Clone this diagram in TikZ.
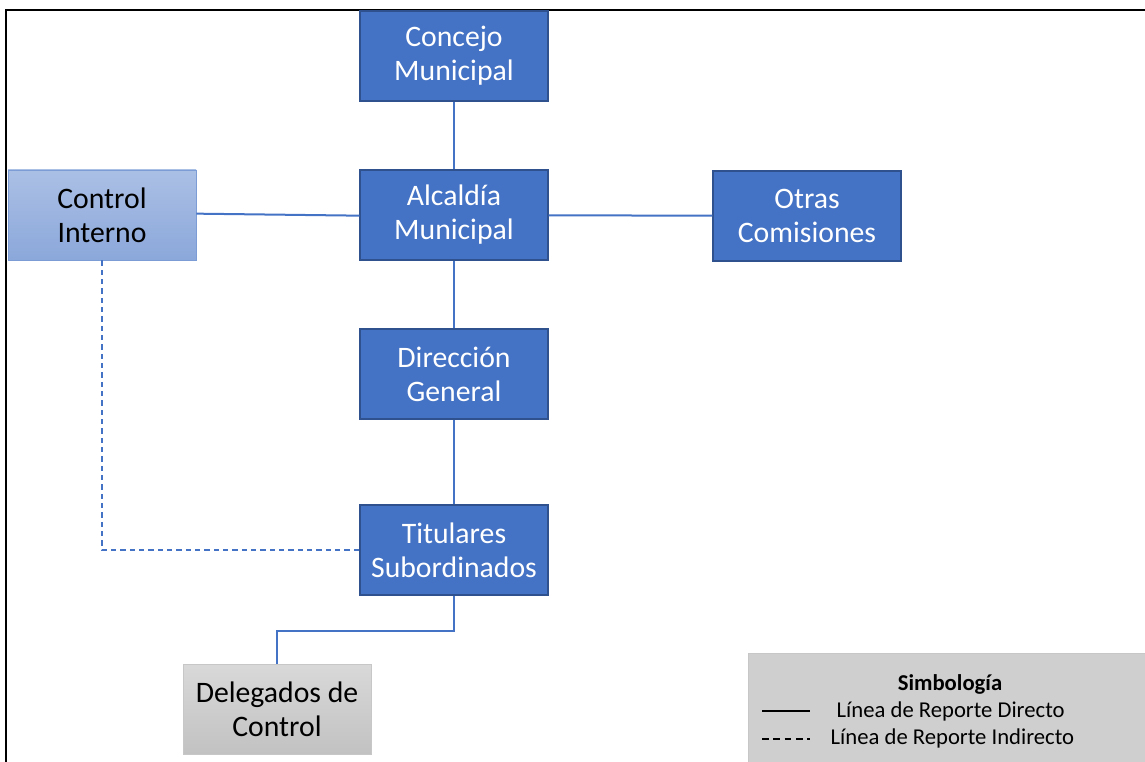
\documentclass[tikz,border=0pt]{standalone}
\usepackage{fontspec}
\setmainfont{Carlito}
\usetikzlibrary{positioning}
\definecolor{boxblue}{HTML}{4472C4}
\definecolor{boxedge}{HTML}{2F528F}
\begin{document}
\begin{tikzpicture}[
    x=0.75pt, y=-0.75pt,
    font=\fontsize{22.3}{25.5}\selectfont,
    unit/.style={draw=boxedge, fill=boxblue, text=white, line width=0.9pt, align=center, minimum width=141pt, minimum height=67.5pt, inner sep=0pt},
    control/.style={draw=boxblue!70, top color=boxblue!45, bottom color=boxblue!62, text=black, line width=0.7pt, align=center, minimum width=141pt, minimum height=67.5pt, inner sep=0pt},
    delegado/.style={draw=black!22, top color=black!15, bottom color=black!24, text=black, line width=0.7pt, align=center, minimum width=141pt, minimum height=67.5pt, inner sep=0pt},
    link/.style={draw=boxblue, line width=1.5pt},
    legend/.style={font=\fontsize{17}{20}\selectfont}
]
\useasboundingbox (0,0) rectangle (1145,762);
% marco
\draw[line width=2pt] (6,762) -- (6,10) -- (1145,10);

\node[unit] (concejo) at (454,56) {Concejo\\Municipal};
\node[unit] (alcaldia) at (454,215) {Alcaldía\\Municipal};
\node[unit] (otras) at (807,216) {Otras\\Comisiones};
\node[control] (control) at (102,215) {Control\\Interno};
\node[unit] (direccion) at (454,374) {Dirección\\General};
\node[unit] (titulares) at (454,550) {Titulares\\Subordinados};
\node[delegado] (delegados) at (277,709) {Delegados de\\Control};

\draw[link] (concejo) -- (alcaldia);
\draw[link] ([yshift=1pt]control.east) -- ([yshift=-0.5pt]alcaldia.west);
\draw[link] (alcaldia) -- (otras);
\draw[link] (alcaldia) -- (direccion);
\draw[link] (direccion) -- (titulares);
\draw[link] (titulares.south) -- ++(0,35) -| (delegados.north);
\draw[link, line width=1pt, dash pattern=on 4pt off 3pt] (control.south) |- (titulares.west);

% simbologia
\node[fill=black!19, draw=black!22, minimum width=300pt, minimum height=82pt, inner sep=0pt, anchor=north west] (simbolo) at (748,653) {};
\node[legend, font=\fontsize{17}{20}\selectfont\bfseries] (titulo) at (950,684) {Simbología};
\node[legend, anchor=west] (directo) at (832,711) {Línea de Reporte Directo};
\node[legend, anchor=west] (indirecto) at (826,738) {Línea de Reporte Indirecto};
\coordinate (d1) at (762,711);
\coordinate (i1) at (762,739);
\draw[line width=1.6pt] (d1) -- ++(48,0);
\draw[line width=0.9pt, dash pattern=on 5pt off 3.5pt] (i1) -- ++(48,0);
\end{tikzpicture}
\end{document}
